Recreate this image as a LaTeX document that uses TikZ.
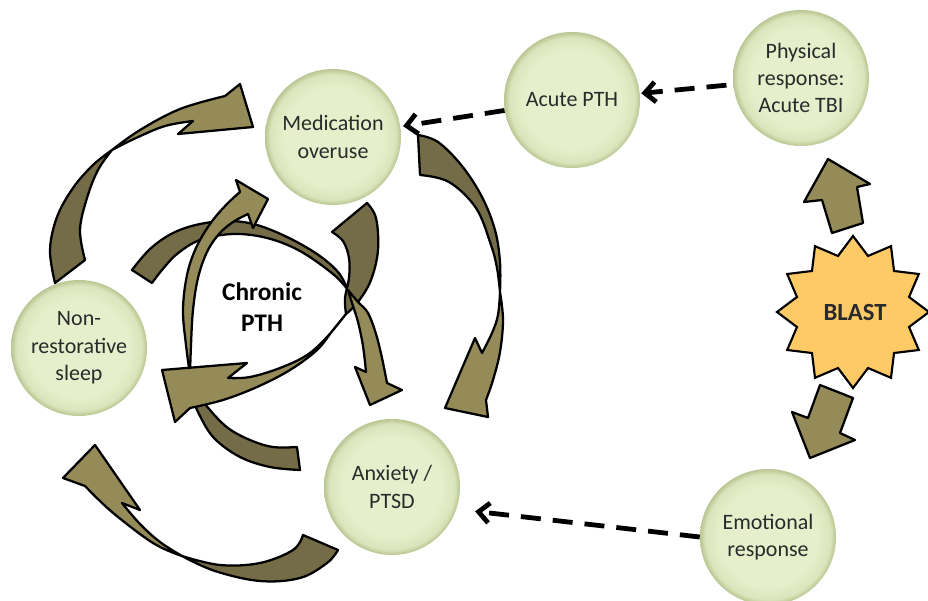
\documentclass[tikz,border=0pt]{standalone}
\usepackage{fontspec}
\setmainfont{Carlito}
\usetikzlibrary{arrows.meta}
\definecolor{olivedark}{HTML}{736C47}
\definecolor{olivelight}{HTML}{958B58}
\definecolor{bubin}{HTML}{E5EFCB}
\definecolor{bubmid}{HTML}{DAE5BC}
\definecolor{bubout}{HTML}{BAC592}
\definecolor{blastfill}{HTML}{FDCA66}
\definecolor{txt}{HTML}{2A2A2A}
\pgfdeclareradialshading{bubbleshade}{\pgfpoint{0bp}{0bp}}{color(0bp)=(bubin); color(18bp)=(bubin); color(23bp)=(bubmid); color(25bp)=(bubout); color(50bp)=(bubout)}
\begin{document}
\begin{tikzpicture}[x=0.75pt,y=-0.75pt,
  causenode/.style={circle, minimum size=102pt, inner sep=0pt, shading=bubbleshade, align=center, text=txt, font=\fontsize{16.5}{20.5}\selectfont},
  backpart/.style={fill=olivedark, draw=black, line width=1.7pt, line join=round},
  frontpart/.style={fill=olivelight, draw=black, line width=1.7pt, line join=round},
  dasharrow/.style={line width=3.6pt, dash pattern=on 15pt off 9pt, -{Straight Barb[length=8pt,width=15pt]}},
  sm/.style={smooth, tension=0.6}]
\useasboundingbox (0,0) rectangle (928,600);

% ---- outer arrows ----
\path[backpart] plot[sm] coordinates {(55,283) (50,250) (57,217) (73,188) (93,165) (112,150)} -- plot[sm] coordinates {(112,150) (98,170) (87,198) (80,230) (85,260)} -- cycle;
\path[frontpart] plot[sm] coordinates {(112,150) (140,130) (180,109) (225,96)} -- (240,84) -- (253,127) -- (178,134) -- (193,121) -- plot[sm] coordinates {(193,121) (165,126) (136,138) (112,150)} -- cycle;

\path[backpart] plot[sm] coordinates {(418,135) (438,142) (462,166) (482,197) (495,230) (500,262) (500,292)} -- plot[sm] coordinates {(500,292) (497,268) (491,245) (476,208) (449,182) (420,175)} -- cycle;
\path[frontpart] plot[sm] coordinates {(500,292) (503,320) (500,352) (493,380) (486,400)} -- (488,417) -- (445,408) -- (475,338) -- (482,353) -- plot[sm] coordinates {(482,353) (492,333) (498,315) (500,292)} -- cycle;

\path[backpart] plot[sm] coordinates {(338,550) (327,563) (300,578) (260,581) (215,571) (182,556)} -- plot[sm] coordinates {(182,556) (220,565) (260,563) (293,550) (303,535)} -- cycle;
\path[frontpart] plot[sm] coordinates {(182,556) (153,543) (112,512) (85,486)} -- (63,478) -- (95,445) -- (140,510) -- (122,503) -- plot[sm] coordinates {(122,503) (140,524) (160,542) (182,556)} -- cycle;

% ---- inner arrows: back parts ----
\path[backpart] plot[sm] coordinates {(297,447) (273,447) (250,440) (228,428) (210,410) (197,392) (190,375)} -- plot[sm] coordinates {(190,375) (192,395) (199,414) (214,438) (240,457) (270,467) (300,470)} -- cycle;
\path[backpart] plot[sm] coordinates {(132,270) (150,249) (173,233) (200,224) (230,221) (257,225) (287,237) (317,254) (338,272) (348,290)} -- plot[sm] coordinates {(348,290) (333,274) (300,251) (267,238) (233,234) (200,240) (177,254) (162,270) (152,283)} -- cycle;
\path[backpart] (332,232) -- plot[sm] coordinates {(367,203) (376,218) (378,250) (371,280) (358,302) (346,314)} -- plot[sm] coordinates {(346,314) (345,298) (349,278) (349,258) (343,241) (332,232)} -- cycle;

% ---- inner arrows: front parts ----
\path[frontpart] plot[sm] coordinates {(190,375) (186,345) (183,310) (187,275) (196,248) (210,224) (226,205) (240,192)} -- (236,180) -- (268,199) -- (253,228) -- (248,214) -- plot[sm] coordinates {(248,214) (233,222) (219,234) (207,252) (198,278) (193,310) (191,345) (190,375)} -- cycle;
\path[frontpart] plot[sm] coordinates {(348,290) (358,302) (368,313) (376,334) (382,358) (387,383)} -- (402,390) -- (370,405) -- (355,367) -- (366,372) -- plot[sm] coordinates {(366,372) (363,346) (358,322) (352,303) (348,290)} -- cycle;
\path[frontpart] plot[sm] coordinates {(346,314) (333,330) (317,350) (290,370) (257,387) (223,400) (190,408)} -- (175,422) -- (162,370) -- (247,363) -- (228,378) -- plot[sm] coordinates {(228,378) (250,377) (280,368) (307,355) (327,337) (346,314)} -- cycle;

\node[font=\bfseries\fontsize{19}{23}\selectfont, align=center] (chronic) at (262,307) {Chronic\\PTH};

% ---- nodes ----
\node[causenode] (med) at (333,137) {Medication\\overuse};
\node[causenode] (acute) at (572,100) {Acute PTH};
\node[causenode] (phys) at (801,78) {Physical\\response:\\Acute TBI};
\node[causenode] (sleep) at (79,348) {Non-\\restorative\\sleep};
\node[causenode] (anx) at (392,487) {Anxiety /\\PTSD};
\node[causenode] (emo) at (768,537) {Emotional\\response};

% ---- blast ----
\begin{scope}[shift={(853,312)}]
\draw[fill=blastfill, draw=black, line width=1.6pt, line join=miter] (0:76) \foreach \a in {0,30,...,330} { -- (\a+15:58) -- (\a+30:76)} -- cycle;
\end{scope}
\node[font=\bfseries\fontsize{18.5}{22}\selectfont, text=txt] (blast) at (855,312) {BLAST};

\path[frontpart] (828,159) -- (870,184) -- (857,187) -- (863,223) -- (832,233) -- (822,200) -- (804,202) -- cycle;
\path[frontpart] (820,385) -- (853,398) -- (840,433) -- (855,440) -- (810,458) -- (792,412) -- (808,418) -- cycle;

% ---- dashed connectors ----
\draw[dasharrow, shorten <=5pt, shorten >=1pt] (phys) -- (acute);
\draw[dasharrow, shorten >=2pt] (acute) -- (med);
\draw[dasharrow, shorten >=14pt] (emo.west) -- (anx.-19);
\end{tikzpicture}
\end{document}
